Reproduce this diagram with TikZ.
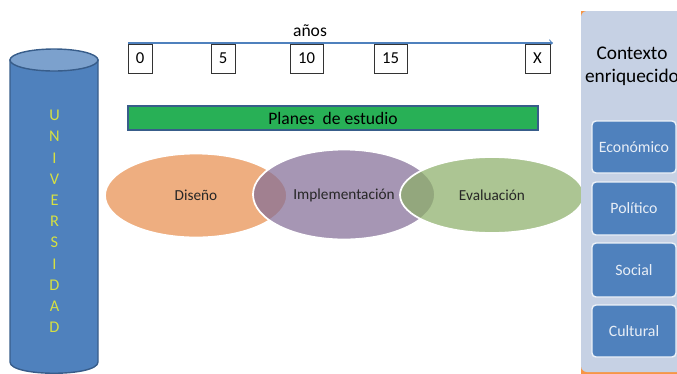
\documentclass[tikz,border=0pt]{standalone}
\usepackage{fontspec}
\setmainfont{Carlito}
\usetikzlibrary{shapes.geometric}
\def\pxu{0.02cm}
\definecolor{cylblue}{RGB}{79,129,189}
\definecolor{cylline}{RGB}{56,93,138}
\definecolor{cyltop}{RGB}{124,161,205}
\definecolor{univyellow}{RGB}{214,224,66}
\definecolor{planegreen}{RGB}{40,176,86}
\definecolor{diseno}{RGB}{232,143,79}
\definecolor{implem}{RGB}{132,110,151}
\definecolor{evalgreen}{RGB}{140,175,105}
\definecolor{panelgray}{RGB}{198,209,228}
\definecolor{panelorange}{RGB}{247,150,70}
\definecolor{factortext}{RGB}{232,238,246}
\tikzset{
	yearbox/.style={draw=black!80, fill=white, line width=0.5pt, minimum height=29*\pxu, inner sep=0pt, font=\fontsize{9.5}{11}\selectfont},
	phase/.style={ellipse, draw=white, line width=1pt, fill opacity=0.72, text opacity=1, inner sep=0pt, text height=1.5ex, text depth=0.3ex, text=black!85, font=\fontsize{8.7}{10}\selectfont},
	factor/.style={rectangle, rounded corners=4*\pxu, draw=white!90!cylblue, line width=0.8pt, fill=cylblue, minimum width=84*\pxu, inner sep=0pt, text=factortext, font=\fontsize{9}{11}\selectfont}
}

\begin{document}
\begin{tikzpicture}[x=0.02cm, y=-0.02cm]
			%%%%% START %%%%%
			\clip (0,0) rectangle (677,373);
			
			% universidad
			\draw[line width=0.8pt, draw=cylline, fill=cylblue] (10,60) -- (10,362) .. controls (10,377) and (98,377) .. (98,362) -- (98,60) -- cycle;
			\draw[line width=0.8pt, draw=cylline, fill=cyltop] (54,60) ellipse [x radius=44, y radius=11];
			\node[align=center, text=univyellow, font=\fontsize{9.3}{12.06}\selectfont, inner sep=0pt] (univ) at (54.5,221.5) {U\\N\\I\\V\\E\\R\\S\\I\\D\\A\\D};
			
			% linea de tiempo
			\coordinate (tstart) at (128,43);
			\coordinate (tend) at (553,43);
			\draw[->, cylblue, line width=0.6pt] (tstart) -- (tend);
			\node[font=\fontsize{10}{12}\selectfont, inner sep=0pt] (anos) at (310,31) {años};
			
			\node[yearbox, minimum width=24*\pxu] (y0) at (140,58.5) {0};
			\node[yearbox, minimum width=24*\pxu] (y5) at (223,58.5) {5};
			\node[yearbox, minimum width=33*\pxu] (y10) at (306.5,58.5) {10};
			\node[yearbox, minimum width=33*\pxu] (y15) at (390.5,58.5) {15};
			\node[yearbox, minimum width=25*\pxu] (yX) at (537.5,58.5) {X};
			
			% planes
			\node[draw=cylline, line width=0.8pt, fill=planegreen, minimum width=410*\pxu, minimum height=24*\pxu, inner sep=0pt, font=\fontsize{10}{12}\selectfont] (planes) at (333,118) {Planes\ \ de estudio};
			
			% fases
			\node[phase, fill=diseno, minimum width=182*\pxu, minimum height=84*\pxu] (dis) at (196,195.5) {Diseño};
			\node[phase, fill=implem, minimum width=182*\pxu, minimum height=90*\pxu] (imp) at (344,194.5) {Implementación};
			\node[phase, fill=evalgreen, minimum width=184*\pxu, minimum height=76*\pxu] (eva) at (492,195) {Evaluación};
			
			% contexto
			\fill[panelorange] (581,11) rectangle (700,380);
			\fill[panelgray, rounded corners=6*\pxu] (581,11) rectangle (710,372);
			\node[align=center, font=\fontsize{11}{13}\selectfont, inner sep=0pt] (ctx) at (632,66) {Contexto\\enriquecido};
			
			\node[factor, minimum height=52*\pxu] (eco) at (634,147) {Económico};
			\node[factor, minimum height=53*\pxu] (pol) at (634,208.5) {Político};
			\node[factor, minimum height=54*\pxu] (soc) at (634,270) {Social};
			\node[factor, minimum height=52*\pxu] (cul) at (634,331) {Cultural};
			
			%%%%% END %%%%%
\end{tikzpicture}
\end{document}
